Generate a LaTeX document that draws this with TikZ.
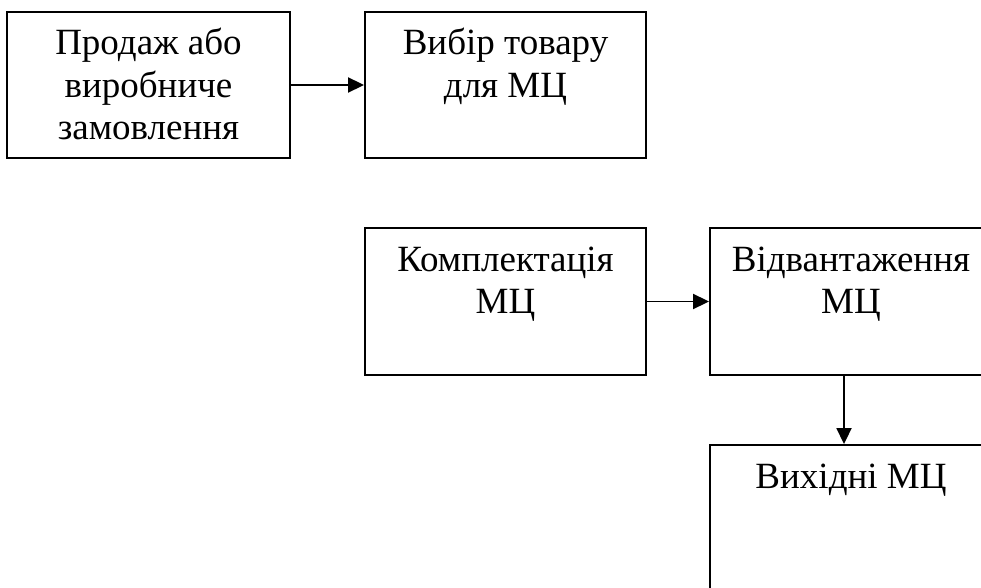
\documentclass[tikz,border=0pt]{standalone}
\usepackage{fontspec}
\setmainfont{Liberation Serif}
\usetikzlibrary{arrows.meta}

% Box content: fixed-size top-aligned block, first baseline 43pt below the top edge
\newcommand\stagetext[3]{\parbox[c][#2][t]{#1}{\centering\rule{0pt}{43pt}#3\par}}

\begin{document}
\begin{tikzpicture}[x=1pt, y=-1pt]
\tikzset{
  stage/.style={draw, line width=1.9pt, inner sep=0pt, font=\fontsize{37}{42.5}\selectfont},
  flow/.style={-{Triangle[length=16pt,width=15pt]}, line width=1.9pt}
}
\fill[white] (0,0) rectangle (981,588);
\path[use as bounding box, clip] (0,0) rectangle (981,588);

\node[stage] (order)  at (148.5,85)  {\stagetext{283pt}{146pt}{Продаж або\\виробниче\\замовлення}};
\node[stage] (choice) at (505.5,85)  {\stagetext{281pt}{146pt}{Вибір товару\\для МЦ}};
\node[stage] (pick)   at (505.5,301.5) {\stagetext{281pt}{147pt}{Комплектація\\МЦ}};
\node[stage] (ship)   at (851,301.5) {\stagetext{282pt}{147pt}{Відвантаження\\МЦ}};
\node[stage] (out)    at (851,518)   {\stagetext{282pt}{146pt}{Вихідні МЦ}};

\draw[flow] (order.east) -- (choice.west);
\draw[flow] (pick.east) -- (ship.west);
\draw[flow] ([xshift=-7pt]ship.south) -- ([xshift=-7pt]out.north);
\end{tikzpicture}
\end{document}
